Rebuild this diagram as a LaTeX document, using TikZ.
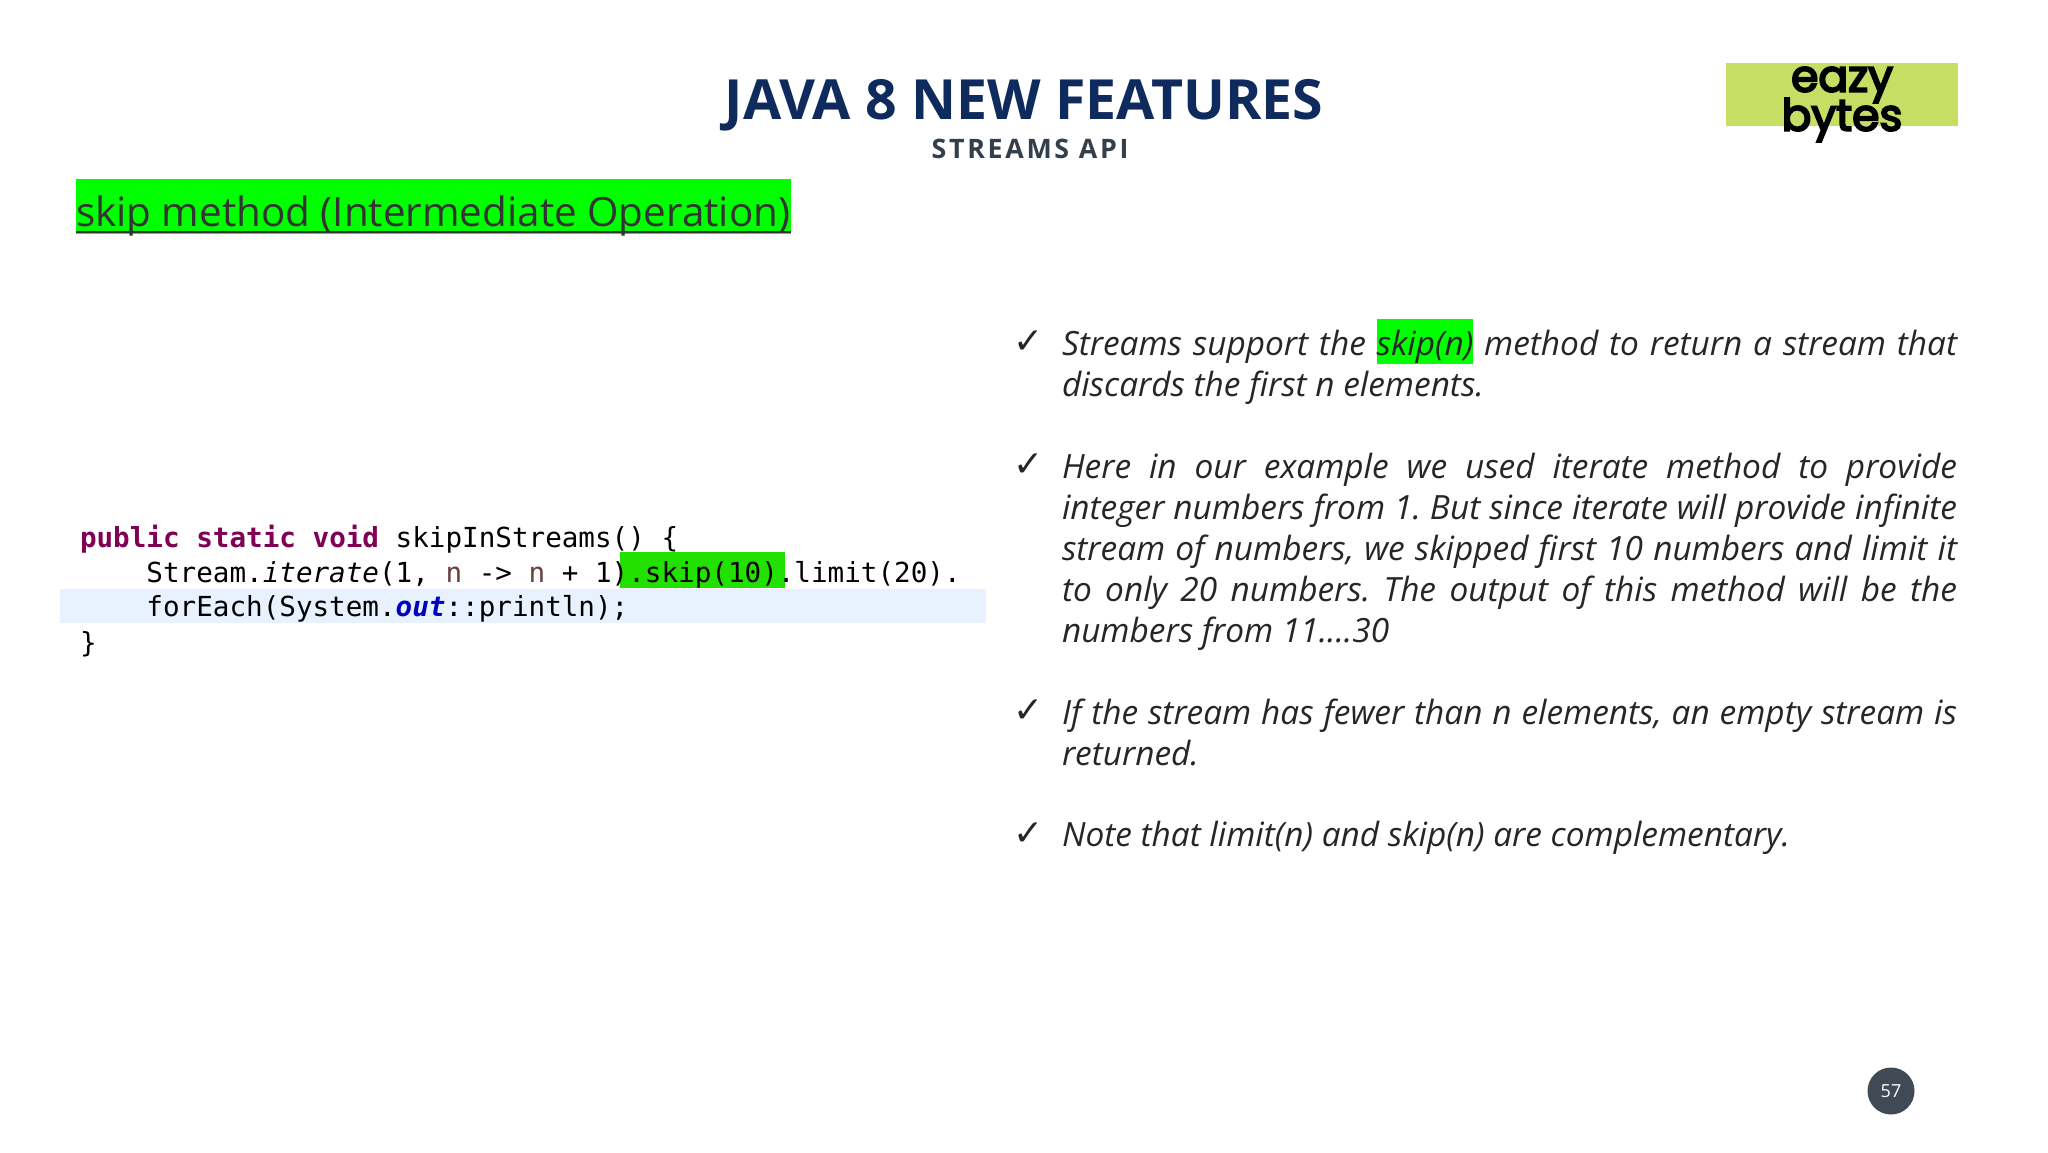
\documentclass[tikz,border=0pt]{standalone}
\usepackage{fontspec}
\setmainfont{Open Sans}
\setmonofont{DejaVu Sans Mono}
\newfontfamily\logofont[FakeBold=4.5]{Poppins}
\newfontfamily\tickfont{DejaVu Sans}
\definecolor{titleblue}{HTML}{0F2A5C}
\definecolor{subgray}{HTML}{333F4A}
\definecolor{hlgreen}{HTML}{00FF00}
\definecolor{codegreen}{HTML}{22E000}
\definecolor{bandblue}{HTML}{E8F2FE}
\definecolor{logogreen}{HTML}{C6DE64}
\definecolor{kwpurple}{HTML}{7F0055}
\definecolor{varbrown}{HTML}{6A3E3E}
\definecolor{bodygray}{HTML}{262626}
\definecolor{badgegray}{HTML}{3F4A54}
\newcommand{\kw}[1]{\textcolor{kwpurple}{\bfseries #1}}
\begin{document}
\frenchspacing
\begin{tikzpicture}[
		x=0.5pt, y=-0.5pt,
		every node/.style={inner sep=0pt, outer sep=0pt},
		bodytext/.style={anchor=north west, text width=447.5pt, align=justify, text=bodygray,
			font=\frenchspacing\fontsize{16.7}{20.5}\selectfont\itshape},
		tick/.style={anchor=base west, text=bodygray, font=\tickfont\fontsize{18}{18}\selectfont},
		codeline/.style={anchor=base west, font=\ttfamily\fontsize{13.8}{17}\selectfont}
	]
  \useasboundingbox (0,0) rectangle (2048,1152);
  \fill [white] (0,0) rectangle (2048,1152);
  \node (title) [text=titleblue, font=\fontsize{27.7}{28}\selectfont\bfseries] at (1024,105.5) {JAVA 8 NEW FEATURES};
  \node (subtitle) [text=subgray, font=\fontsize{13.4}{14}\selectfont\bfseries] at (1030,149) {\addfontfeature{LetterSpace=10}STREAMS API};
  \node (logobox) [fill=logogreen, minimum width=116pt, minimum height=31.5pt] at (1842,94.5) {};
  \node (eazy) [font=\logofont\fontsize{22}{22}\selectfont] at (1842,85) {eazy};
  \node (bytes) [font=\logofont\fontsize{22}{22}\selectfont] at (1842,120) {bytes};
  \node (headbox) [anchor=north west, fill=hlgreen, minimum width=357.5pt, minimum height=27.5pt] at (76,179) {};
  \node (heading) [anchor=base west, text=black!80, font=\fontsize{20.2}{22}\selectfont] at (76,226.5) {skip method (Intermediate Operation)};
  \draw [black!80, line width=1pt] (headbox.south west) ++(0,-2) -- ([yshift=1pt]headbox.south east);
  \fill [bandblue] (60,589) rectangle (986,623);
  \fill [codegreen] (620,552) rectangle (785,588);
  \node (line1) [codeline] at (80,547) {\kw{public} \kw{static} \kw{void} skipInStreams() \{};
  \node (line2) [codeline] at (80,582) {\ \ \ \ Stream.\textit{iterate}(1, \textcolor{varbrown}{n} -> \textcolor{varbrown}{n} + 1).skip(10).limit(20).};
  \node (line3) [codeline] at (80,616) {\ \ \ \ forEach(System.\textcolor{blue!75!black}{\bfseries\itshape out}::println);};
  \node (line4) [codeline] at (80,652) {\}};
  \node (tick1) [tick] at (1013,353) {✓};
  \node (tick2) [tick] at (1013,476) {✓};
  \node (tick3) [tick] at (1013,722) {✓};
  \node (tick4) [tick] at (1013,845) {✓};
  \node (para1) [bodytext] at (1062,318.5) {Streams support the {\setlength{\fboxsep}{0pt}\colorbox{hlgreen}{\rule[-4pt]{0pt}{22.5pt}skip(n)}} method to return a stream that\linebreak discards the first n elements.};
  \node (para2) [bodytext] at (1062,453) {Here in our example we used iterate method to provide\linebreak integer numbers from 1. But since iterate will provide infinite\linebreak stream of numbers, we skipped first 10 numbers and limit it\linebreak to only 20 numbers. The output of this method will be the\linebreak numbers from 11....30};
  \node (para3) [bodytext] at (1062,699) {If the stream has fewer than n elements, an empty stream is\linebreak returned.};
  \node (para4) [bodytext] at (1062,821.5) {Note that limit(n) and skip(n) are complementary.};
  \node (badge) [circle, fill=badgegray, minimum size=23.5pt, text=white, font=\fontsize{9}{9}\selectfont] at (1891,1091) {57};
\end{tikzpicture}
\end{document}
